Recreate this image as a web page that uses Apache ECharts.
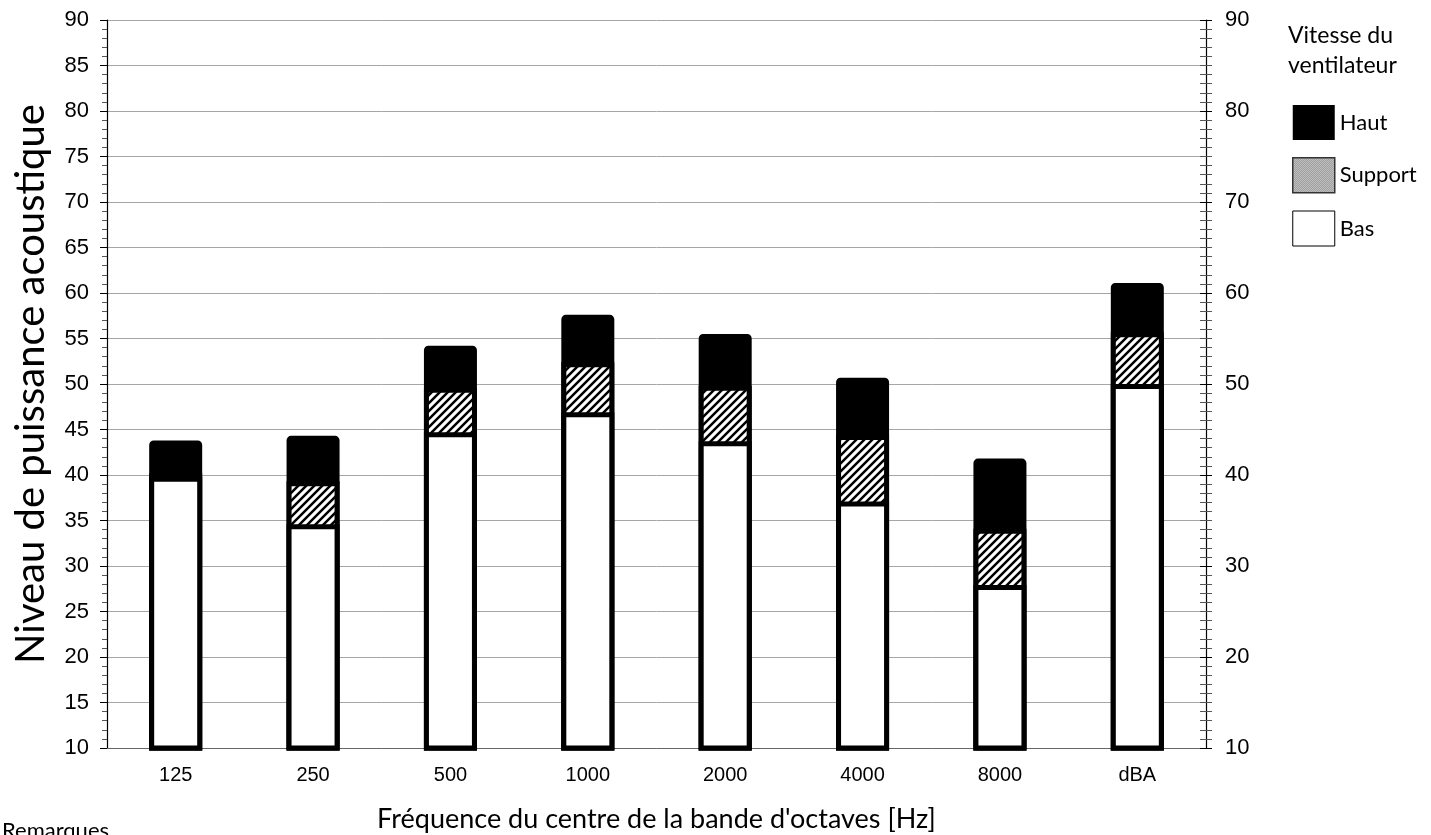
<!DOCTYPE html>
<html>
<head>
<meta charset="utf-8">
<script src="https://cdn.jsdelivr.net/npm/echarts@6/dist/echarts.min.js"></script>
<style>
  html, body { margin: 0; padding: 0; background: #fff; }
  #chart { width: 1431px; height: 835px; }
</style>
</head>
<body>
<div id="chart"></div>
<script>
// bandes d'octaves
const categories = ['125', '250', '500', '1000', '2000', '4000', '8000', 'dBA'];
// vitesse du ventilateur
const haut = [43.8, 44.3, 54.2, 57.6, 55.5, 50.7, 41.8, 61.1];
const support = [40.2, 39.3, 49.6, 52.4, 49.8, 44.4, 34.1, 55.7];
const bas = [39.8, 34.6, 44.7, 46.9, 43.7, 37.1, 27.9, 50.0];
const leftTicks = [10, 90, 5];
const rightTicks = [10, 90, 10];

// hachures pour "Support"
function makeHatch() {
  const s = 8;
  const c = document.createElement('canvas');
  c.width = s; c.height = s;
  const g = c.getContext('2d');
  g.fillStyle = '#fff';
  g.fillRect(0, 0, s, s);
  g.strokeStyle = '#000';
  g.lineWidth = 2.5;
  g.beginPath();
  g.moveTo(-s, 2 * s); g.lineTo(2 * s, -s);
  g.moveTo(-s, s); g.lineTo(s, -s);
  g.moveTo(0, 2 * s); g.lineTo(2 * s, 0);
  g.stroke();
  return c;
}
// petit motif gris pour la légende
function makeDots() {
  const c = document.createElement('canvas');
  c.width = 2; c.height = 2;
  const g = c.getContext('2d');
  g.fillStyle = '#e8e8e8';
  g.fillRect(0, 0, 2, 2);
  g.fillStyle = '#777';
  g.fillRect(0, 0, 1, 1);
  g.fillRect(1, 1, 1, 1);
  return c;
}

const chart = echarts.init(document.getElementById('chart'));
const numFont = 'Liberation Sans, Arial, sans-serif';
const txtFont = 'Lato, Carlito, Calibri, sans-serif';

const rightAxisBase = {
  type: 'value',
  position: 'right',
  min: rightTicks[0],
  max: rightTicks[1],
  interval: rightTicks[2],
  splitLine: { show: false }
};

chart.setOption({
  animation: false,
  backgroundColor: '#fff',
  title: {
    text: 'Vitesse du\nventilateur',
    left: 1283,
    top: 16,
    textStyle: { fontFamily: txtFont, fontSize: 23, fontWeight: 'normal', color: '#000', lineHeight: 30 }
  },
  legend: {
    orient: 'vertical',
    left: 1287,
    top: 100,
    itemWidth: 42,
    itemHeight: 35,
    itemGap: 17,
    selectedMode: false,
    textStyle: { fontFamily: txtFont, fontSize: 22, color: '#000', padding: [12, 0, 0, 0] },
    data: [
      { name: 'Haut', icon: 'rect', itemStyle: { color: '#000', borderWidth: 0 } },
      { name: 'Support', icon: 'rect', itemStyle: { color: { image: makeDots(), repeat: 'repeat' }, borderColor: '#333', borderWidth: 1.5 } },
      { name: 'Bas', icon: 'rect', itemStyle: { color: '#fff', borderColor: '#000', borderWidth: 1 } }
    ]
  },
  graphic: [{
    type: 'text',
    left: 2,
    top: 820,
    style: { text: 'Remarques', font: '22px Lato, sans-serif', fill: '#000' }
  }],
  grid: { left: 107, right: 225, top: 20, bottom: 87, containLabel: false, outerBoundsMode: 'none' },
  xAxis: {
    type: 'category',
    data: categories,
    name: "Fréquence du centre de la bande d'octaves [Hz]",
    nameLocation: 'middle',
    nameGap: 58,
    nameTextStyle: { fontFamily: txtFont, fontSize: 27, color: '#000' },
    axisLine: { lineStyle: { color: '#666', width: 1 } },
    axisTick: { show: false },
    axisLabel: { fontFamily: numFont, fontSize: 20, color: '#000', margin: 17 }
  },
  yAxis: [
    {
      type: 'value',
      position: 'left',
      min: leftTicks[0],
      max: leftTicks[1],
      interval: leftTicks[2],
      name: 'Niveau de puissance acoustique',
      nameLocation: 'middle',
      nameGap: 56,
      nameTextStyle: { fontFamily: txtFont, fontSize: 40, color: '#000' },
      axisLine: { show: true, lineStyle: { color: '#000', width: 1.2 } },
      axisTick: { show: true, length: 7, lineStyle: { color: '#000' } },
      minorTick: { show: true, splitNumber: 5, length: 5, lineStyle: { color: '#555' } },
      splitLine: { show: true, lineStyle: { color: '#a6a6a6', width: 1 } },
      axisLabel: { fontFamily: numFont, fontSize: 22, color: '#000', margin: 18 }
    },
    Object.assign({}, rightAxisBase, {
      axisLine: { show: true, lineStyle: { color: '#000', width: 1.2 } },
      axisTick: { show: true, length: 6, lineStyle: { color: '#000' } },
      minorTick: { show: true, splitNumber: 10, length: 6, lineStyle: { color: '#555' } },
      axisLabel: { fontFamily: numFont, fontSize: 22, color: '#000', margin: 19 }
    }),
    Object.assign({}, rightAxisBase, {
      axisLine: { show: false },
      axisTick: { show: true, inside: true, length: 6, lineStyle: { color: '#000' } },
      minorTick: { show: true, splitNumber: 10, length: 6, lineStyle: { color: '#555' } },
      axisLabel: { show: false }
    })
  ],
  series: [
    {
      name: 'Haut',
      type: 'bar',
      data: haut,
      barWidth: 53,
      barGap: '-100%',
      itemStyle: { color: '#000', borderColor: '#000', borderWidth: 5, borderRadius: [2, 2, 0, 0] }
    },
    {
      name: 'Support',
      type: 'bar',
      data: support,
      barWidth: 53,
      barGap: '-100%',
      itemStyle: { color: { image: makeHatch(), repeat: 'repeat' }, borderColor: '#000', borderWidth: 5 }
    },
    {
      name: 'Bas',
      type: 'bar',
      data: bas,
      barWidth: 53,
      barGap: '-100%',
      itemStyle: { color: '#fff', borderColor: '#000', borderWidth: 5 }
    }
  ]
});
</script>
</body>
</html>
